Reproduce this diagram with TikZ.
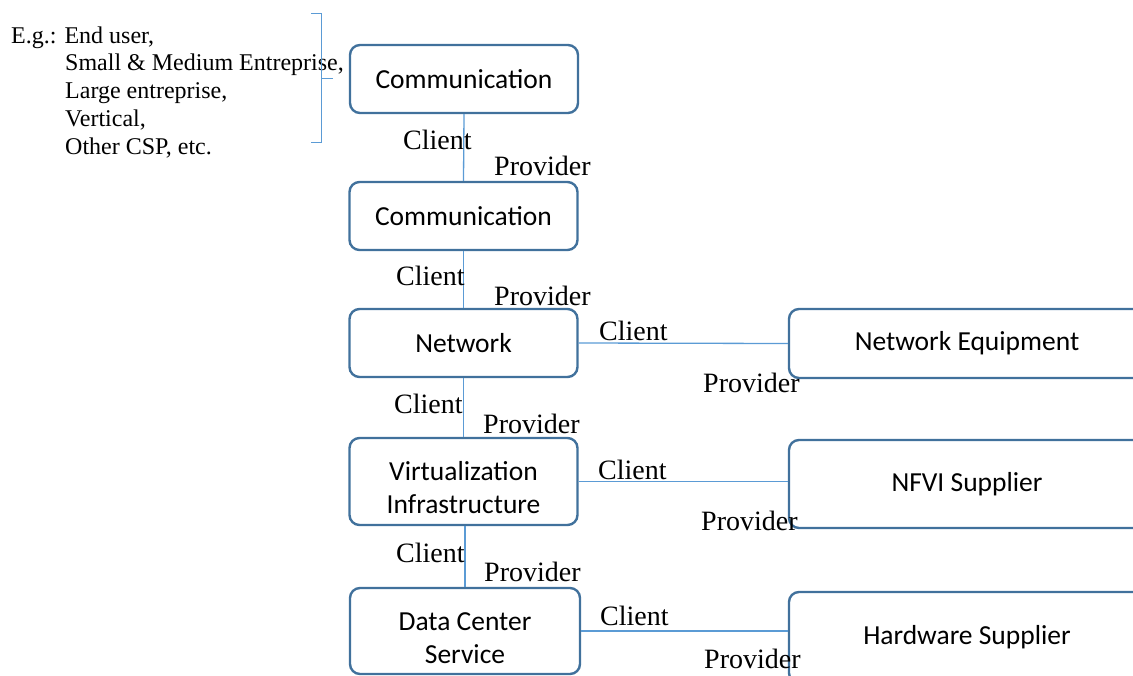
\documentclass[tikz,border=0pt]{standalone}
\usepackage{fontspec}
\setmainfont{Liberation Serif}
\newfontfamily\boxfont{Carlito}
\usepackage{tikz}
\usetikzlibrary{calc}

\definecolor{boxblue}{RGB}{65,113,156}
\definecolor{linkblue}{RGB}{91,155,213}

\begin{document}
\begin{tikzpicture}[x=1pt,y=-1pt,
    role/.style={draw=boxblue, line width=2.4pt, rounded corners=10pt,
        minimum width=228pt, minimum height=68pt, align=center,
        font=\boxfont\fontsize{27.5}{33}\selectfont},
    link/.style={draw=linkblue, line width=1.3pt},
    tag/.style={anchor=base west, inner sep=0pt, font=\fontsize{28}{33}\selectfont},
    egtext/.style={anchor=base west, inner sep=0pt, font=\fontsize{24}{28}\selectfont}]

    \useasboundingbox (0,0) rectangle (1133,675);
    \clip (0,0) rectangle (1133,675);

    % left column
    \node[role] (comm1) at (464,79) {Communication};
    \node[role] (comm2) at (463.5,216) {Communication};
    \node[role] (net) at (463.5,343) {Network};
    \node[role, minimum height=87pt, text height=65pt] (virt) at (463.5,481.5) {Virtualization\\Infrastructure};
    \node[role, minimum width=230pt, minimum height=86pt, text height=65pt] (dc) at (465,631) {Data Center\\Service};

    % right column
    \node[role, minimum width=356pt, minimum height=69pt] (ne) at (967,343.5) {Network Equipment};
    \node[role, minimum width=356pt, minimum height=88pt] (nfvi) at (967,484) {NFVI Supplier};
    \node[role, minimum width=356pt, minimum height=91pt] (hw) at (967,637.5) {Hardware Supplier};

    % links
    \draw[link] (comm1.south) -- (comm2.north);
    \draw[link] (comm2.south) -- (net.north);
    \draw[link] (net.south) -- (virt.north);
    \draw[link] (dc.north |- virt.south) -- (dc.north);
    \draw[link] (net.east) -- (ne.west);
    \draw[link] (virt.east) -- (virt.east -| nfvi.west);
    \draw[link] (dc.east) -- (dc.east -| hw.west);

    % client / provider tags
    \foreach \x/\y [count=\i] in {403/149, 396/285, 394/413, 396/562, 599/340, 598/479, 600/625}
        \node[tag] (client\i) at (\x,\y) {Client};
    \foreach \x/\y [count=\i] in {494/175, 494/305, 483/433, 484/581, 703/392, 701/530, 704/668}
        \node[tag] (provider\i) at (\x,\y) {Provider};

    % examples with brace
    \node[egtext] (eg) at (11,43) {E.g.: End user,};
    \foreach \t [count=\i] in {{Small \& Medium Entreprise,},{Large entreprise,},{Vertical,},{Other CSP, etc.}}
        \node[egtext] (eg\i) at (65,{43+27.8*\i}) {\t};
    \draw[link, line width=1pt] (311,13) -| (321,142) -- (311,142);
    \draw[link, line width=1pt] (321,78) -- (333,78);

\end{tikzpicture}
\end{document}
